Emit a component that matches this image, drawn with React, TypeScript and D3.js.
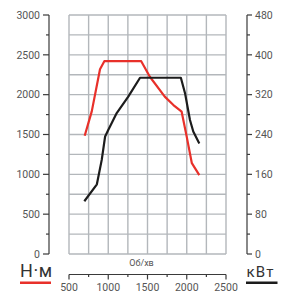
import React from "react";
import * as d3 from "d3";

// engine speed, rpm
const TORQUE_RPM = [700, 790, 895, 950, 1420, 1530, 1720, 1830, 1935, 2000, 2065, 2160];
// torque, N·m
const TORQUE_NM = [1485, 1790, 2320, 2420, 2420, 2225, 1975, 1870, 1786, 1470, 1140, 990];

const POWER_RPM = [695, 855, 917, 960, 1000, 1108, 1255, 1405, 1925, 1978, 2041, 2083, 2160];
// power, kW
const POWER_KW = [106, 140, 189, 236, 249, 283, 316, 354, 354, 323, 269, 246, 222];

const RPM_TICKS = [500, 1000, 1500, 2000, 2500];
const NM_TICKS = [0, 500, 1000, 1500, 2000, 2500, 3000];
const KW_TICKS = [0, 80, 160, 240, 320, 400, 480];

const LAYOUT = {
  width: 283,
  height: 293,
  left: 69,
  right: 226,
  top: 15,
  bottom: 254,
  leftAxisX: 49,
  rightAxisX: 247,
  bottomAxisY: 274.5,
};

const COLORS = {
  torque: "#e8302a",
  power: "#1c1c1c",
  grid: "#b3b7bb",
  axis: "#3a3a3a",
  text: "#555",
};

const FONT = "Roboto, 'DejaVu Sans', sans-serif";

export default function App() {
  const L = LAYOUT;
  const x = d3.scaleLinear().domain([500, 2500]).range([L.left, L.right]);
  const yNm = d3.scaleLinear().domain([0, 3000]).range([L.bottom, L.top]);
  const yKw = d3.scaleLinear().domain([0, 480]).range([L.bottom, L.top]);

  const torqueLine = d3
    .line<number>()
    .x((_d, i) => x(TORQUE_RPM[i]))
    .y((d) => yNm(d))(TORQUE_NM) as string;

  const powerLine = d3
    .line<number>()
    .x((_d, i) => x(POWER_RPM[i]))
    .y((d) => yKw(d))(POWER_KW) as string;

  const gridX = d3.range(500, 2501, 250);
  const gridY = d3.range(0, 3001, 250);
  const minorKw = d3.range(0, 481, 40);

  return (
    <svg
      width={L.width}
      height={L.height}
      style={{ position: "absolute", left: 0, top: 0, background: "#fff" }}
      fontFamily={FONT}
    >
      {/* grid */}
      <g stroke={COLORS.grid} strokeWidth={1.4}>
        {gridX.map((v) => (
          <line key={`gx${v}`} x1={x(v)} x2={x(v)} y1={L.top} y2={L.bottom} />
        ))}
        {gridY.map((v) => (
          <line key={`gy${v}`} x1={L.left} x2={L.right} y1={yNm(v)} y2={yNm(v)} />
        ))}
      </g>

      {/* left axis */}
      <g stroke={COLORS.axis} strokeWidth={1.2}>
        <line x1={L.leftAxisX} x2={L.leftAxisX} y1={L.top} y2={L.bottom} />
        {gridY.map((v) => (
          <line
            key={`lt${v}`}
            x1={L.leftAxisX - (v % 500 === 0 ? 6 : 3)}
            x2={L.leftAxisX}
            y1={yNm(v)}
            y2={yNm(v)}
          />
        ))}
      </g>
      {NM_TICKS.map((v) => (
        <text
          key={`ll${v}`}
          x={40}
          y={yNm(v)}
          dy="0.35em"
          textAnchor="end"
          fontSize={10.5}
          fill={COLORS.text}
        >
          {v}
        </text>
      ))}

      {/* right axis */}
      <g stroke={COLORS.axis} strokeWidth={1.2}>
        <line x1={L.rightAxisX} x2={L.rightAxisX} y1={L.top} y2={L.bottom} />
        {minorKw.map((v) => (
          <line
            key={`rt${v}`}
            x1={L.rightAxisX}
            x2={L.rightAxisX + (v % 80 === 0 ? 5 : 3)}
            y1={yKw(v)}
            y2={yKw(v)}
          />
        ))}
      </g>
      {KW_TICKS.map((v) => (
        <text
          key={`rl${v}`}
          x={255}
          y={yKw(v)}
          dy="0.35em"
          fontSize={10.5}
          fill={COLORS.text}
        >
          {v}
        </text>
      ))}

      {/* bottom axis */}
      <g stroke={COLORS.axis} strokeWidth={1.2}>
        <line x1={L.left} x2={L.right} y1={L.bottomAxisY} y2={L.bottomAxisY} />
        {gridX.map((v) => (
          <line
            key={`bt${v}`}
            x1={x(v)}
            x2={x(v)}
            y1={L.bottomAxisY}
            y2={L.bottomAxisY + (v % 500 === 0 ? 5 : 2.5)}
          />
        ))}
      </g>
      {RPM_TICKS.map((v) => (
        <text
          key={`bl${v}`}
          x={x(v)}
          y={290.5}
          textAnchor="middle"
          fontSize={10.5}
          fill={COLORS.text}
        >
          {v}
        </text>
      ))}
      <text x={141.5} y={266} textAnchor="middle" fontSize={9} fill={COLORS.text}>
        Об/хв
      </text>

      {/* curves */}
      <path d={torqueLine} fill="none" stroke={COLORS.torque} strokeWidth={2.2} strokeLinejoin="round" />
      <path d={powerLine} fill="none" stroke={COLORS.power} strokeWidth={2.2} strokeLinejoin="round" />

      {/* unit labels */}
      <text x={20} y={277} fontSize={18} fill="#333" letterSpacing={0.6}>
        Н·м
      </text>
      <rect x={20} y={281.5} width={31} height={2.5} fill={COLORS.torque} />
      <text x={246.5} y={277} fontSize={15} fill="#333" letterSpacing={1.2}>
        кВт
      </text>
      <rect x={246} y={281.5} width={31.5} height={2.5} fill={COLORS.power} />
    </svg>
  );
}
